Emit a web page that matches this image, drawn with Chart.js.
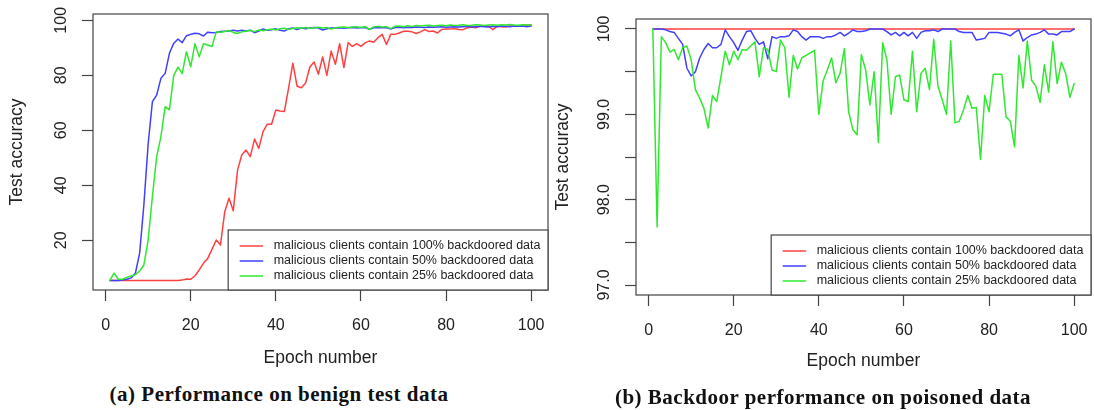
<!DOCTYPE html>
<html>
<head>
<meta charset="utf-8">
<script src="https://cdn.jsdelivr.net/npm/chart.js@4/dist/chart.umd.min.js"></script>
<style>
  html, body { margin: 0; padding: 0; background: #fff; }
  #wrap { position: relative; width: 1094px; height: 410px; overflow: hidden; }
  canvas { position: absolute; top: 0; }
  #cA { left: 0; }
  #cB { left: 548px; }
  .cap { position: absolute; text-align: center; font-family: "Liberation Serif", serif; font-weight: bold;
         font-size: 21px; line-height: 21px; letter-spacing: 0.5px; color: #111; white-space: nowrap; }
</style>
</head>
<body>
<div id="wrap">
  <canvas id="cA" width="552" height="372"></canvas>
  <canvas id="cB" width="546" height="372"></canvas>
  <div class="cap" style="left:0;width:558px;top:384px;">(a) Performance on benign test data</div>
  <div class="cap" style="left:552px;width:542px;top:387px;">(b) Backdoor performance on poisoned data</div>
</div>
<script>
// ---- data ----
const epochs = [
  1,2,3,4,5,6,7,8,9,10,11,12,13,14,15,16,17,18,19,20,
  21,22,23,24,25,26,27,28,29,30,31,32,33,34,35,36,37,38,39,40,
  41,42,43,44,45,46,47,48,49,50,51,52,53,54,55,56,57,58,59,60,
  61,62,63,64,65,66,67,68,69,70,71,72,73,74,75,76,77,78,79,80,
  81,82,83,84,85,86,87,88,89,90,91,92,93,94,95,96,97,98,99,100
];

const seriesLabels = [
  'malicious clients contain 100% backdoored data',
  'malicious clients contain 50% backdoored data',
  'malicious clients contain 25% backdoored data'
];
const seriesColors = ['#ff4040', '#4040ff', '#30e830'];

// (a) benign test accuracy
const benign100 = [
  5.4,5.4,5.4,5.4,5.4,5.4,5.4,5.4,5.4,5.4,5.4,5.4,5.4,5.4,5.4,5.4,5.4,5.5,5.9,5.8,
  7.1,9.2,11.6,13.4,16.7,20.1,18.3,30.4,35.3,30.7,45.5,51,52.8,50.4,56.8,53.4,59.5,62.2,62.2,67.4,
  67,66.8,75.3,84.4,76,75.5,77.2,83,84.8,80.4,86.7,80,88.8,84,91.5,82.8,91.9,90.5,91.5,90.5,
  91.8,92.5,92,93.7,94.9,91.2,94.9,94.9,95.4,96,96,95.8,95.2,95.8,96.6,95.9,96.1,95.4,96.7,96.8,
  96.8,97.0,96.7,96.6,97.3,97.6,97.3,97.8,97.8,97.9,96.6,97.8,97.7,97.6,97.9,97.8,97.8,98.1,98.2,98.3
];
const benign50 = [
  5.4,5.4,5.4,5.5,5.8,6.3,8.0,15.3,33,55,70.4,72.8,78.9,80.7,88,91.6,93.2,91.9,94.4,94.9,
  95.3,95.1,94.3,95.7,95.5,95.6,95.9,96.0,96.1,96.4,96.1,96.4,96.1,96.4,95.5,96.1,96.9,96.4,96.6,96.9,
  96.4,96.1,96.9,97.2,96.6,97.2,96.9,97.2,97.4,97.2,96.5,96.9,97.2,97.2,97.3,97.1,97.3,97.4,97.2,97.3,
  97.4,96.7,97.3,97.4,97.3,97.4,96.8,97.4,97.5,97.3,97.5,97.4,97.6,97.5,97.4,97.6,97.5,97.6,97.7,97.5,
  97.6,97.7,97.6,97.7,97.8,97.6,97.7,97.8,97.7,97.6,97.8,97.7,97.9,97.8,97.7,97.9,97.8,97.9,97.7,97.9
];
const benign25 = [
  5.4,8.0,5.8,5.8,6.5,7.0,7.5,8.8,11,20.1,35.9,50.4,57.7,68.6,67.4,79.9,83,80.6,88.6,83.1,
  91.5,86.7,91.5,91,90.5,95.8,95.7,95.9,96.3,95.6,95.2,95.8,96.0,96.4,95.9,96.5,96.2,96.6,96.8,96.5,
  96.9,97.1,96.7,97.0,97.3,97.1,97.4,97.0,97.3,97.5,97.2,97.4,96.8,97.3,97.5,97.6,97.3,97.6,97.7,97.4,
  97.7,96.7,97.6,97.8,97.6,97.7,97.0,97.8,97.9,97.7,98.0,97.8,98.1,97.9,98.1,98.2,97.9,98.1,98.2,98.0,
  98.3,98.1,98.2,98.4,98.1,98.2,98.4,98.3,98.1,98.3,98.4,98.2,98.4,98.3,98.5,98.3,98.2,98.4,98.3,98.3
];

// (b) backdoor accuracy on poisoned data
const poison100 = [
  100,100,100,100,100,100,100,100,100,100,100,100,100,100,100,100,100,100,100,100,
  100,100,100,100,100,100,100,100,100,100,100,100,100,100,100,100,100,100,100,100,
  100,100,100,100,100,100,100,100,100,100,100,100,100,100,100,100,100,100,100,100,
  100,100,100,100,100,100,100,100,100,100,100,100,100,100,100,100,100,100,100,100,
  100,100,100,100,100,100,100,100,100,100,100,100,100,100,100,100,100,100,100,100
];
const poison50 = [
  100,100,100,99.99,99.97,99.96,99.89,99.82,99.54,99.45,99.5,99.66,99.76,99.83,99.78,99.78,99.82,99.99,99.91,99.84,
  99.75,99.87,99.97,99.98,99.89,99.82,99.85,99.65,99.91,99.89,99.91,99.91,99.92,99.99,99.97,99.91,99.87,99.91,99.91,99.91,
  99.89,99.91,99.91,99.93,99.96,99.92,99.95,99.99,99.97,99.97,99.98,100,100,100,100,99.97,99.93,99.96,99.92,99.96,
  99.92,99.96,99.89,99.96,99.98,99.98,99.99,99.97,100,100,100,100,99.97,99.96,99.96,99.96,99.87,99.88,99.89,99.96,
  99.96,99.96,99.95,99.94,99.92,99.96,99.99,99.86,99.9,99.93,99.94,99.96,99.99,99.94,99.94,99.93,99.97,99.97,99.97,100
];
const poison25 = [
  100,97.68,99.91,99.84,99.73,99.76,99.64,99.78,99.8,99.64,99.29,99.19,99.07,98.84,99.22,99.15,99.44,99.74,99.58,99.74,
  99.64,99.76,99.75,99.8,99.85,99.44,99.78,99.76,99.52,99.5,99.87,99.78,99.2,99.69,99.53,99.66,99.69,99.72,99.75,99.0,
  99.39,99.52,99.66,99.37,99.48,99.77,99.03,98.82,98.76,99.7,99.52,99.11,99.5,98.67,99.84,99.64,99.0,99.44,99.46,99.17,
  99.15,99.74,99.03,99.48,99.54,99.29,99.88,99.33,99.17,99.0,99.86,98.9,98.92,99.05,99.22,99.07,99.08,98.47,99.22,99.03,
  99.47,99.47,99.47,98.97,98.92,98.62,99.69,99.31,99.86,99.4,99.33,99.14,99.58,99.26,99.85,99.36,99.61,99.48,99.2,99.36
];

const xTicks = [0, 20, 40, 60, 80, 100];
const yTicksA = [20, 40, 60, 80, 100];
const yTicksB = [97, 97.5, 98, 98.5, 99, 99.5, 100];
const yTickLabelsB = ['97.0', '', '98.0', '', '99.0', '', '100'];

// ---- style ----
Chart.defaults.font.family = '"Liberation Sans", Arial, sans-serif';
Chart.defaults.color = '#222';
const tickFont = { size: 16 };
const titleFont = { size: 17.5 };
const axisGray = '#444';

// box round the plot region + R-style legend in the bottom right corner
const rBox = {
  id: 'rBox',
  afterDraw(chart) {
    const { ctx, chartArea: a } = chart;
    ctx.save();
    ctx.strokeStyle = axisGray;
    ctx.lineWidth = 1.2;
    ctx.strokeRect(a.left, a.top, a.right - a.left, a.bottom - a.top);

    ctx.font = '12.5px "Liberation Sans", Arial, sans-serif';
    const sets = chart.data.datasets;
    const tw = Math.max(...sets.map(d => ctx.measureText(d.label).width));
    const w = 46 + tw + 7, h = 60;
    const x0 = a.right - w, y0 = a.bottom - h;
    ctx.fillStyle = '#fff';
    ctx.fillRect(x0, y0, w, h);
    ctx.strokeRect(x0, y0, w, h);
    sets.forEach((d, i) => {
      const y = y0 + 16 + i * 15;
      ctx.strokeStyle = d.borderColor;
      ctx.lineWidth = 1.5;
      ctx.beginPath();
      ctx.moveTo(x0 + 11.5, y);
      ctx.lineTo(x0 + 35, y);
      ctx.stroke();
      ctx.fillStyle = '#222';
      ctx.textBaseline = 'middle';
      ctx.fillText(d.label, x0 + 45.5, y);
    });
    ctx.restore();
  }
};

function makeDatasets(values) {
  return values.map((v, i) => ({
    label: seriesLabels[i],
    data: epochs.map((e, j) => ({ x: e, y: v[j] })),
    borderColor: seriesColors[i],
    backgroundColor: seriesColors[i],
    borderWidth: 1.5,
    pointRadius: 0,
    tension: 0,
    borderJoinStyle: 'round',
    borderCapStyle: 'round',
    order: 3 - i
  }));
}

function makeChart(id, values, yMin, yMax, yTicks, yLabel, cfg) {
  return new Chart(document.getElementById(id), {
    type: 'line',
    data: { datasets: makeDatasets(values) },
    plugins: [rBox],
    options: {
      responsive: false,
      animation: false,
      devicePixelRatio: 1,
      layout: { padding: { top: cfg.padTop, right: cfg.padRight, left: 0, bottom: 0 } },
      plugins: { legend: { display: false }, tooltip: { enabled: false } },
      scales: {
        x: {
          type: 'linear',
          min: -2.96, max: 103.96,
          afterBuildTicks: s => { s.ticks = xTicks.map(v => ({ value: v })); },
          afterFit: s => { s.height = cfg.xHeight; s.paddingLeft = 0; s.paddingRight = 0; },
          ticks: { font: tickFont, color: '#222', padding: 15, maxRotation: 0, autoSkip: false,
                   callback: v => String(v) },
          grid: { drawOnChartArea: false, drawTicks: true, tickLength: 11, tickColor: axisGray, tickWidth: 1.2 },
          border: { display: false },
          title: { display: true, text: 'Epoch number', font: titleFont, color: '#222',
                   padding: { top: 0, bottom: cfg.xTitlePad } }
        },
        y: {
          min: yMin, max: yMax,
          afterBuildTicks: s => { s.ticks = yTicks.map(v => ({ value: v })); },
          afterFit: s => { s.width = cfg.yWidth; s.paddingTop = 0; s.paddingBottom = 0; },
          ticks: { font: tickFont, color: '#222', minRotation: 90, maxRotation: 90, crossAlign: 'center',
                   padding: cfg.yTickPad, autoSkip: false, callback: cfg.yCallback },
          grid: { drawOnChartArea: false, drawTicks: true, tickLength: 11, tickColor: axisGray, tickWidth: 1.2 },
          border: { display: false },
          title: { display: true, text: yLabel, font: titleFont, color: '#222',
                   padding: { top: cfg.yTitlePad, bottom: 0 } }
        }
      }
    }
  });
}

makeChart('cA', [benign100, benign50, benign25], 1.9, 102.3, yTicksA, 'Test accuracy', {
  padTop: 14, padRight: 4, xHeight: 82, yWidth: 93, yTickPad: 7, yTitlePad: 7, xTitlePad: 3,
  yCallback: v => String(v)
});

makeChart('cB', [poison100, poison50, poison25], 96.883, 100.117, yTicksB, 'Test accuracy', {
  padTop: 19, padRight: 3, xHeight: 77, yWidth: 88, yTickPad: 4.5, yTitlePad: 4.5, xTitlePad: 0.5,
  yCallback: (v, i) => yTickLabelsB[i]
});
</script>
</body>
</html>
